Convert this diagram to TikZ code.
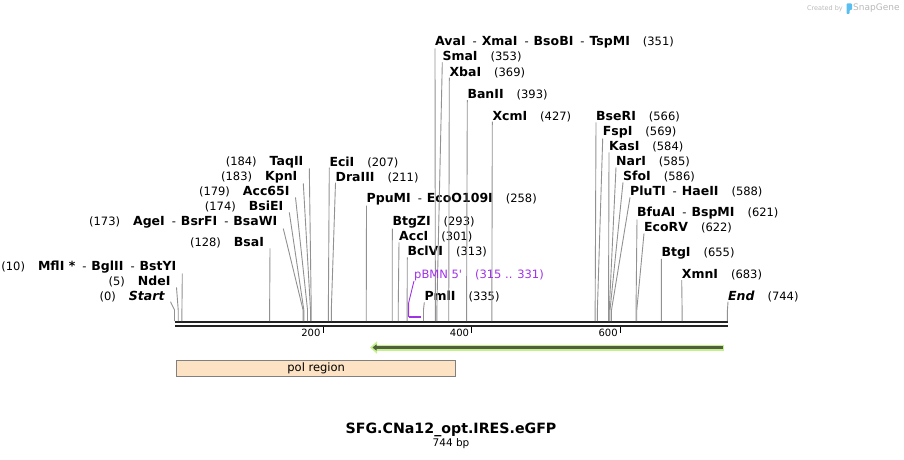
\documentclass[tikz,border=0pt]{standalone}
\usepackage{fontspec}
\setmainfont{DejaVu Sans}[Ligatures=TeXOff]
\usetikzlibrary{arrows.meta}

\definecolor{cutgray}{RGB}{145,145,145}
\definecolor{backbone}{RGB}{35,35,35}
\definecolor{primer}{RGB}{160,50,230}
\definecolor{featfill}{RGB}{253,226,196}
\definecolor{arrowglow}{RGB}{195,240,140}
\definecolor{arrowline}{RGB}{80,95,60}
\definecolor{snapblue}{RGB}{90,190,240}

\newcommand{\enz}[1]{{\fontsize{12.5}{14}\selectfont\bfseries #1}}
\newcommand{\esep}{\hspace{7pt}-\hspace{5pt}}
\newcommand{\nsep}{\hspace{13pt}}

\begin{document}
\begin{tikzpicture}[x=1pt, y=-1pt,
	lbl/.style={inner sep=0pt, font=\fontsize{11.5}{13}\selectfont},
	lft/.style={lbl, anchor=base east, outer xsep=6pt},
	rgt/.style={lbl, anchor=base west},
	cutline/.style={cutgray, line width=0.9pt},
	bptick/.style={black, line width=1.2pt}]
	\useasboundingbox (0,0) rectangle (904,460);

	% sites on the backbone, in bp
	\begin{scope}[x=0.7432pt, xshift=174.5pt]
	\foreach \p in {0,5,10,128,173,174,179,183,184,200,207,211,258,293,301,313,315,331,335,351,353,369,393,400,427,566,569,584,585,586,588,600,621,622,655,683,744}
		\coordinate (c\p) at (\p,321);
	\end{scope}

	% backbone
	\draw [backbone, line width=2.5pt] ([xshift=0.5pt, yshift=-1.2pt]c0) -- ([xshift=1pt, yshift=-1.2pt]c744);
	\draw [backbone, line width=2.4pt] ([xshift=0.5pt, yshift=-5pt]c0) -- ([xshift=1pt, yshift=-5pt]c744);
	\foreach \t in {200,400,600} {
		\draw [bptick] ([yshift=-6pt]c\t) -- ([yshift=-12pt]c\t);
		\node [anchor=base east, inner sep=0pt, font=\fontsize{10}{12}\selectfont] (t\t) at ([xshift=-2.5pt, yshift=-15.5pt]c\t) {\t};
	}

	% left labels
	\node [lft] (start) at (170.5,300) {(0)\nsep\enz{\itshape Start}};
	\draw [cutline] (start.south east) -- ([yshift=11pt]c0) -- (c0);
	\node [lft] (ndei) at (176.5,285.7) {(5)\nsep\enz{NdeI}};
	\draw [cutline] (ndei.south east) -- ([yshift=11pt]c5) -- (c5);
	\node [lft] (mfli) at (182.3,270.7) {(10)\nsep\enz{MflI *}\esep\enz{BglII}\esep\enz{BstYI}};
	\draw [cutline] (mfli.south east) -- ([yshift=11pt]c10) -- (c10);
	\node [lft] (bsai) at (270,246.7) {(128)\nsep\enz{BsaI}};
	\draw [cutline] (bsai.south east) -- ([yshift=11pt]c128) -- (c128);
	\node [lft] (agei) at (283.3,225.7) {(173)\nsep\enz{AgeI}\esep\enz{BsrFI}\esep\enz{BsaWI}};
	\draw [cutline] (agei.south east) -- ([yshift=11pt]c173) -- (c173);
	\node [lft] (bsiei) at (289.3,210.7) {(174)\nsep\enz{BsiEI}};
	\draw [cutline] (bsiei.south east) -- ([yshift=11pt]c174) -- (c174);
	\node [lft] (acc65i) at (295.5,195.7) {(179)\nsep\enz{Acc65I}};
	\draw [cutline] (acc65i.south east) -- ([yshift=11pt]c179) -- (c179);
	\node [lft] (kpni) at (303.3,180.7) {(183)\nsep\enz{KpnI}};
	\draw [cutline] (kpni.south east) -- ([yshift=11pt]c183) -- (c183);
	\node [lft] (taqii) at (309.3,165.7) {(184)\nsep\enz{TaqII}};
	\draw [cutline] (taqii.south east) -- ([yshift=11pt]c184) -- (c184);

	% right labels
	\node [rgt] (ecii) at (329.3,166) {\enz{EciI}\nsep(207)};
	\draw [cutline] (ecii.south west) -- ([yshift=11pt]c207) -- (c207);
	\node [rgt] (draiii) at (335.5,181) {\enz{DraIII}\nsep(211)};
	\draw [cutline] (draiii.south west) -- ([yshift=11pt]c211) -- (c211);
	\node [rgt] (ppumi) at (366.5,202.7) {\enz{PpuMI}\esep\enz{EcoO109I}\nsep(258)};
	\draw [cutline] (ppumi.south west) -- ([yshift=11pt]c258) -- (c258);
	\node [rgt] (btgzi) at (392.3,225.7) {\enz{BtgZI}\nsep(293)};
	\draw [cutline] (btgzi.south west) -- ([yshift=11pt]c293) -- (c293);
	\node [rgt] (acci) at (399,240.7) {\enz{AccI}\nsep(301)};
	\draw [cutline] (acci.south west) -- ([yshift=11pt]c301) -- (c301);
	\node [rgt] (bclvi) at (407.3,255.7) {\enz{BclVI}\nsep(313)};
	\draw [cutline] (bclvi.south west) -- ([yshift=11pt]c313) -- (c313);
	\node [rgt] (pmli) at (424.3,300.7) {\enz{PmlI}\nsep(335)};
	\draw [cutline] (pmli.south west) -- ([yshift=11pt]c335) -- (c335);
	\node [rgt] (avai) at (435,45.7) {\enz{AvaI}\esep\enz{XmaI}\esep\enz{BsoBI}\esep\enz{TspMI}\nsep(351)};
	\draw [cutline] (avai.south west) -- ([yshift=11pt]c351) -- (c351);
	\node [rgt] (smai) at (442.3,60.7) {\enz{SmaI}\nsep(353)};
	\draw [cutline] (smai.south west) -- ([yshift=11pt]c353) -- (c353);
	\node [rgt] (xbai) at (449.3,76) {\enz{XbaI}\nsep(369)};
	\draw [cutline] (xbai.south west) -- ([yshift=11pt]c369) -- (c369);
	\node [rgt] (banii) at (467.3,98.3) {\enz{BanII}\nsep(393)};
	\draw [cutline] (banii.south west) -- ([yshift=11pt]c393) -- (c393);
	\node [rgt] (xcmi) at (492.3,120) {\enz{XcmI}\nsep(427)};
	\draw [cutline] (xcmi.south west) -- ([yshift=11pt]c427) -- (c427);
	\node [rgt] (bseri) at (596,120.7) {\enz{BseRI}\nsep(566)};
	\draw [cutline] (bseri.south west) -- ([yshift=11pt]c566) -- (c566);
	\node [rgt] (fspi) at (602.7,135.7) {\enz{FspI}\nsep(569)};
	\draw [cutline] (fspi.south west) -- ([yshift=11pt]c569) -- (c569);
	\node [rgt] (kasi) at (609,150.7) {\enz{KasI}\nsep(584)};
	\draw [cutline] (kasi.south west) -- ([yshift=11pt]c584) -- (c584);
	\node [rgt] (nari) at (616,165.7) {\enz{NarI}\nsep(585)};
	\draw [cutline] (nari.south west) -- ([yshift=11pt]c585) -- (c585);
	\node [rgt] (sfoi) at (623,180.7) {\enz{SfoI}\nsep(586)};
	\draw [cutline] (sfoi.south west) -- ([yshift=11pt]c586) -- (c586);
	\node [rgt] (pluti) at (630,195.7) {\enz{PluTI}\esep\enz{HaeII}\nsep(588)};
	\draw [cutline] (pluti.south west) -- ([yshift=11pt]c588) -- (c588);
	\node [rgt] (bfuai) at (637,216.7) {\enz{BfuAI}\esep\enz{BspMI}\nsep(621)};
	\draw [cutline] (bfuai.south west) -- ([yshift=11pt]c621) -- (c621);
	\node [rgt] (ecorv) at (644,231.7) {\enz{EcoRV}\nsep(622)};
	\draw [cutline] (ecorv.south west) -- ([yshift=11pt]c622) -- (c622);
	\node [rgt] (btgi) at (661.3,256) {\enz{BtgI}\nsep(655)};
	\draw [cutline] (btgi.south west) -- ([yshift=11pt]c655) -- (c655);
	\node [rgt] (xmni) at (681.7,278.3) {\enz{XmnI}\nsep(683)};
	\draw [cutline] (xmni.south west) -- ([yshift=11pt]c683) -- (c683);
	\node [rgt] (end) at (728,300) {\enz{\itshape End}\nsep(744)};
	\draw [cutline] (end.south west) -- ([yshift=11pt]c744) -- (c744);

	% primer
	\node [rgt, text=primer] (pbmn) at (414,278.3) {pBMN 5'\nsep(315 .. 331)};
	\draw [primer, line width=0.9pt] (pbmn.south west) -- ([yshift=18pt]c315) -- ([yshift=4pt]c315);
	\draw [primer, line width=2pt] ([yshift=4pt]c315) -- ([yshift=4pt]c331);

	% features
	\draw [arrowglow, line width=6pt, -{Triangle[length=7pt, width=12pt]}] (724,347.5) -- (370,347.5);
	\draw [arrowline, line width=2.5pt, -{Triangle[length=4pt, width=6pt]}] (722.5,347.5) -- (372.5,347.5);
	\node [draw=gray, line width=0.8pt, fill=featfill, anchor=north west, minimum width=279pt, minimum height=16pt, inner sep=0pt, font=\fontsize{11.5}{13}\selectfont] (pol) at (176.3,360) {pol region};

	% title
	\node [anchor=base, inner sep=0pt, font=\fontsize{14.2}{16}\selectfont\bfseries] (title) at (451,433.3) {SFG.CNa12\_opt.IRES.eGFP};
	\node [anchor=base, inner sep=0pt, font=\fontsize{10.5}{12}\selectfont] (size) at (451,446) {744 bp};

	% credit
	\node [anchor=base east, inner sep=0pt, text=gray!55, font=\fontsize{6.5}{8}\selectfont] (made) at (843,11) {Created by};
	\fill [snapblue, rounded corners=0.8pt] (846.5,3.5) -- (852,3.5) -- (852,10) -- (849.5,10) -- (849.5,14) -- (846.5,14) -- cycle;
	\node [anchor=base west, inner sep=0pt, text=gray!55, font=\fontsize{9}{10}\selectfont] (snap) at (853,11) {SnapGene};
\end{tikzpicture}
\end{document}
